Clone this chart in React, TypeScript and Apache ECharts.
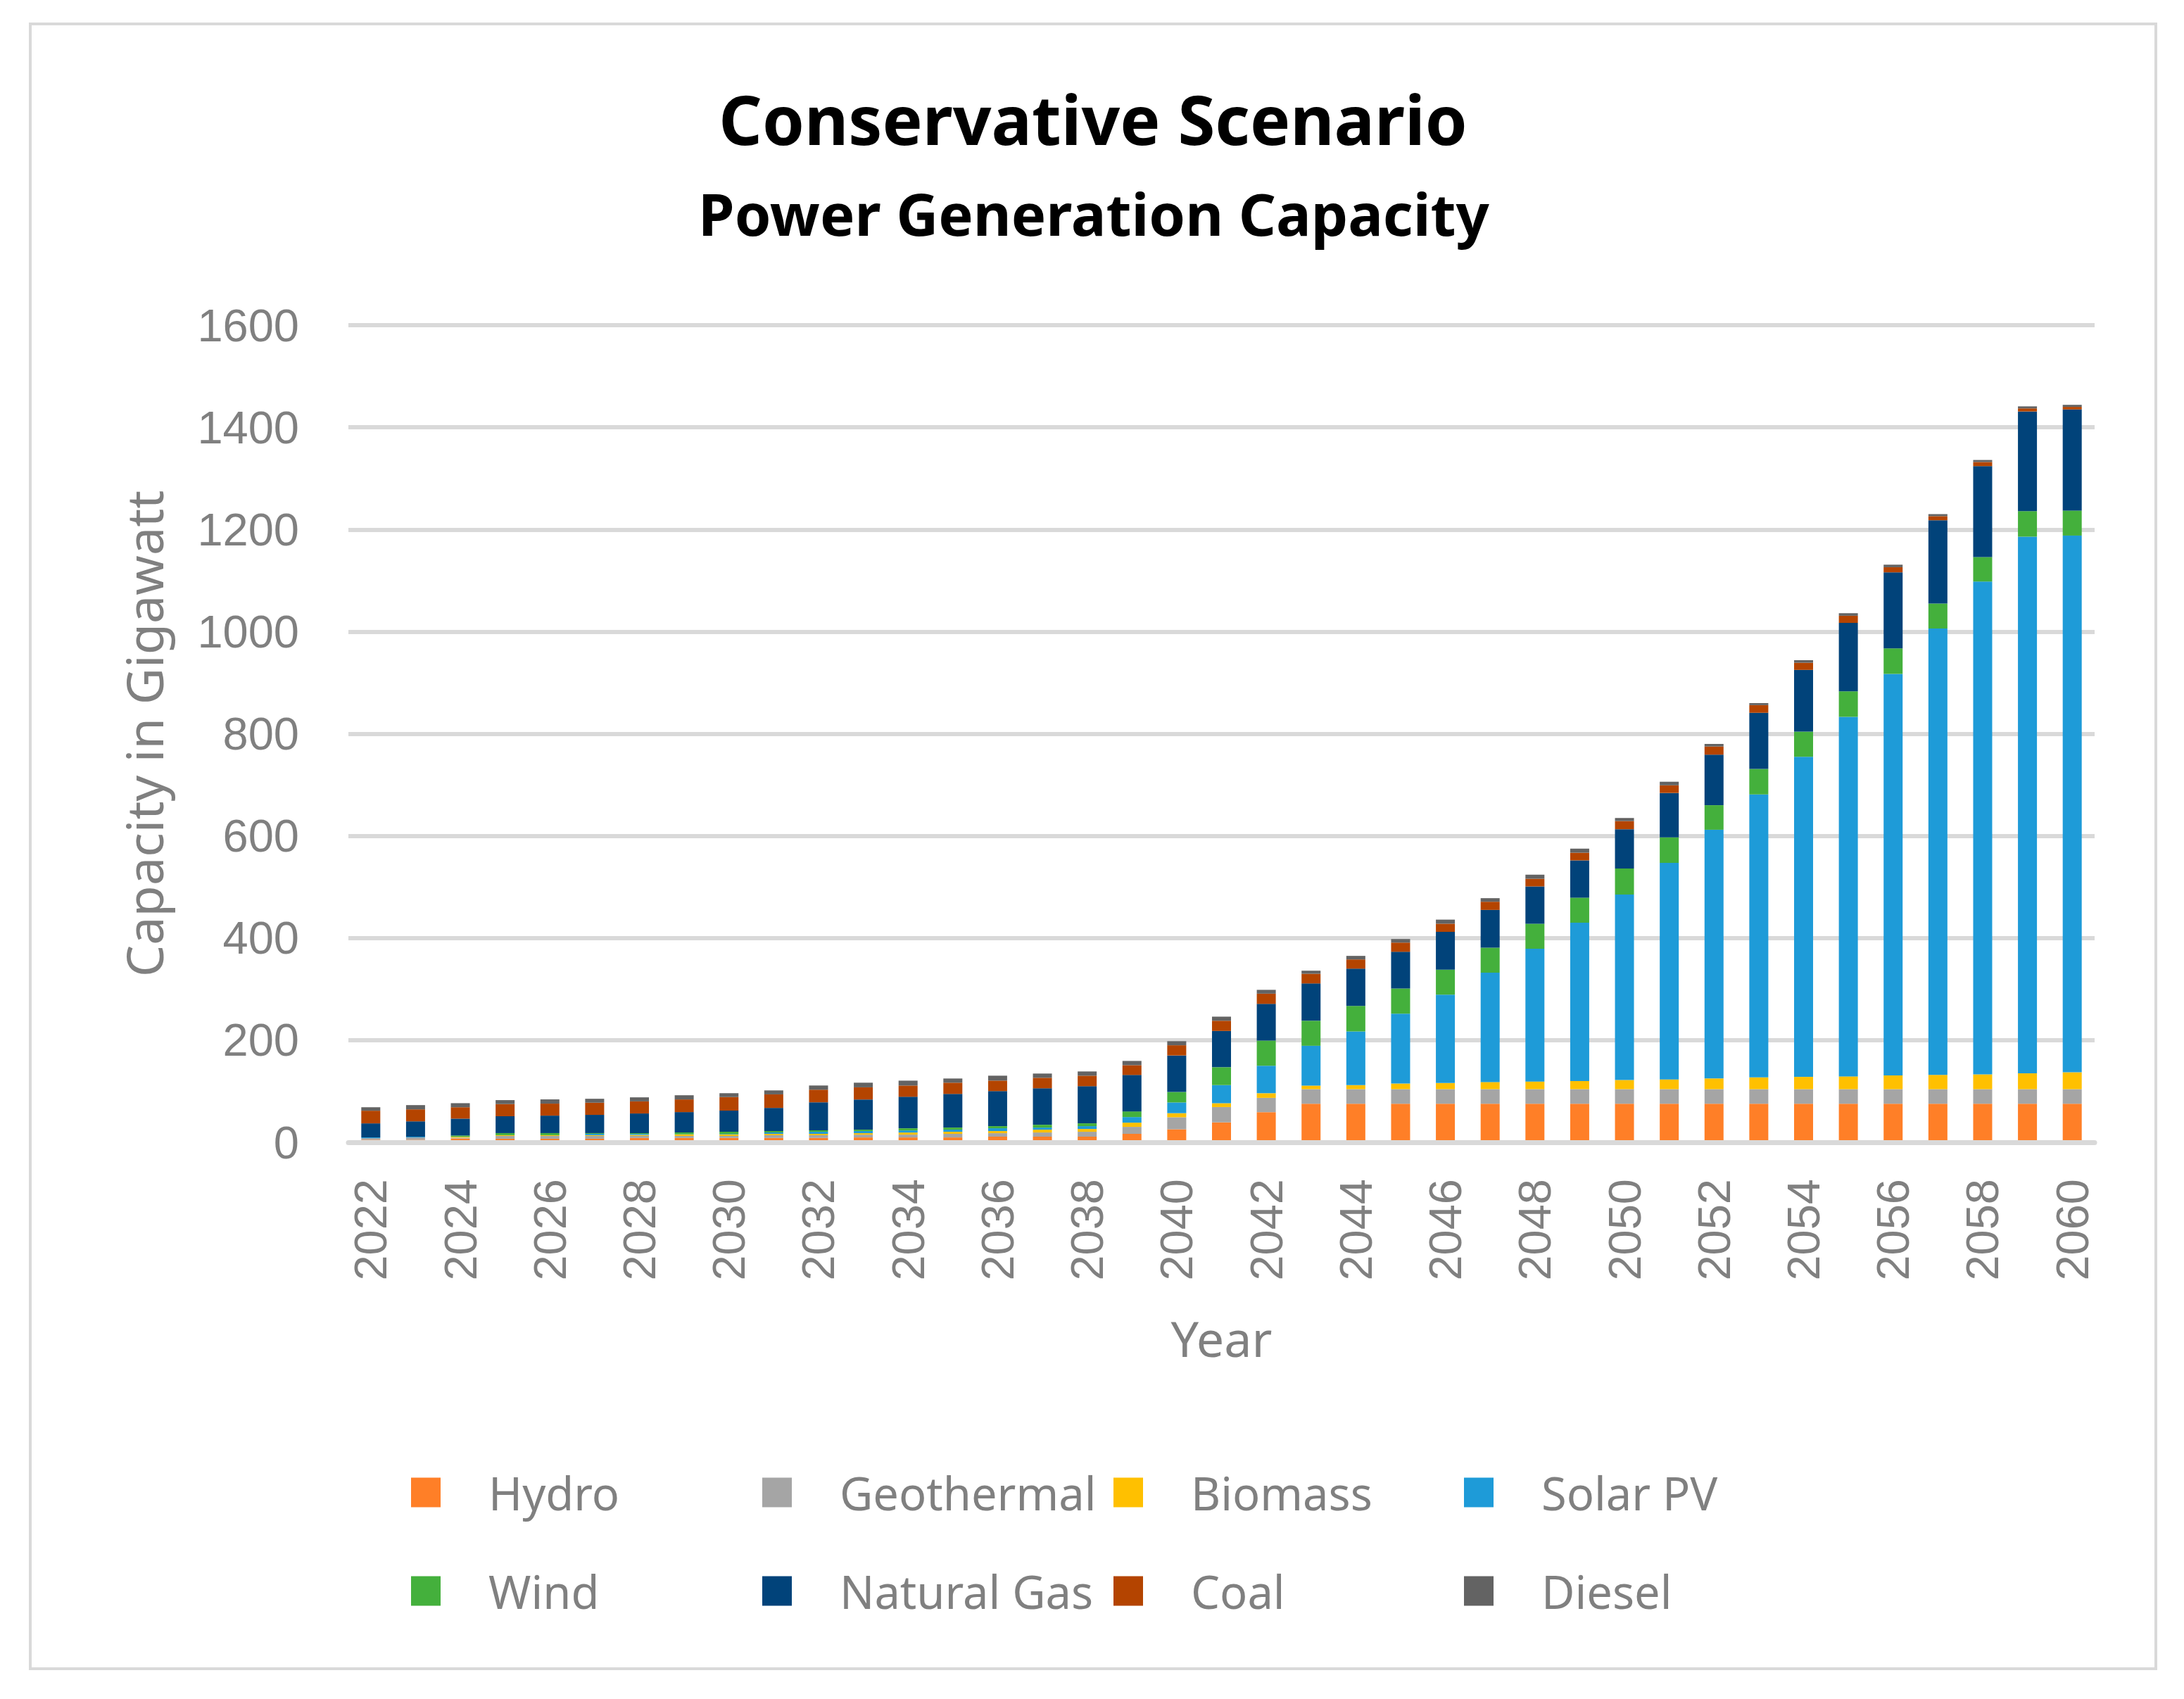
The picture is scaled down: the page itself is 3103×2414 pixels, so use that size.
import React, { useEffect, useRef } from 'react';
import * as echarts from 'echarts';

const years = [
  '2022', '2023', '2024', '2025', '2026', '2027', '2028', '2029', '2030', '2031',
  '2032', '2033', '2034', '2035', '2036', '2037', '2038', '2039', '2040', '2041',
  '2042', '2043', '2044', '2045', '2046', '2047', '2048', '2049', '2050', '2051',
  '2052', '2053', '2054', '2055', '2056', '2057', '2058', '2059', '2060',
];

const hydro = [
  5, 5, 7.5, 7, 7, 7, 8.5, 8.5, 8.5, 8.5,
  8.5, 9.5, 9.5, 9.5, 11, 11, 11, 16.5, 25.5, 39,
  59, 75.5, 75.5, 75.5, 75.5, 75.5, 75.5, 75.5, 75.5, 75.5,
  75.5, 75.5, 75.5, 75.5, 75.5, 75.5, 75.5, 75.5, 75.5,
];

const geothermal = [
  3.2, 4.6, 1.5, 5.5, 5.5, 5.5, 4, 4, 4, 5.3,
  5.3, 5.5, 5.5, 7, 6.8, 8.2, 9.6, 13.7, 23.5, 30,
  28, 28.5, 28.5, 28.5, 28.5, 28.5, 28.5, 28.5, 28.5, 28.5,
  28.5, 28.5, 28.5, 28.5, 28.5, 28.5, 28.5, 28.5, 28.5,
];

const biomass = [
  0, 0, 1.6, 1.4, 1.4, 1.4, 1.8, 2.7, 2.7, 2.7,
  2.7, 2.8, 4.1, 4.1, 4.2, 5.5, 5.5, 8.2, 8, 7.5,
  9, 7, 8, 11, 12, 14, 15, 16, 18, 19,
  21, 23, 24, 25, 27, 28, 29, 31, 33,
];

const solarPV = [
  1.4, 1.4, 0, 0, 0, 2.7, 2, 0.5, 1, 2.8,
  4.1, 4.2, 4.1, 4.1, 5.5, 4.1, 5.5, 11, 21, 35.5,
  54, 78, 105, 137, 173, 214, 260, 310, 363, 424,
  487, 554, 627, 704, 786, 874, 965, 1051, 1051,
];

const wind = [
  0, 0, 2.7, 4.1, 4.1, 1.4, 1.6, 3.6, 4.5, 2.7,
  2.8, 2.7, 4.2, 4.1, 4.1, 5.5, 5.5, 11, 20.5, 35,
  49, 49, 50, 49, 49, 49, 49, 49, 51, 50,
  48, 50, 49, 50, 50, 49, 48, 50, 49,
];

const naturalGas = [
  27.4, 30, 33, 33, 34.2, 35.7, 38.5, 39.8, 41.2, 45.3,
  54.9, 59.1, 61.7, 65.9, 68.6, 71.4, 72.7, 71.4, 71.5, 71,
  72, 73, 73, 72, 74, 74, 73, 73, 77, 87,
  99, 110, 121, 134, 149, 163, 178, 195, 198,
];

const coal = [
  24.8, 23.5, 22.3, 23.8, 23.5, 23.8, 23.7, 24.8, 26.5, 26.5,
  24.7, 23.8, 22, 22, 20.6, 20.6, 20.6, 19.2, 20, 20,
  20, 19, 18, 18, 16, 16, 15, 15, 16, 15,
  16, 15, 14, 14, 10, 8, 8, 6, 5,
];

const diesel = [
  6.8, 8.3, 8, 7.8, 8.3, 7.7, 7.9, 8.2, 7.7, 7.8,
  8.2, 9.1, 9.6, 8.2, 9.6, 8.3, 8.3, 8.3, 8, 8,
  7.5, 6, 7, 7, 8, 7, 8, 8, 6, 7,
  5, 4, 5, 5, 5, 4, 4, 4, 4,
];

const seriesNames = ['Hydro', 'Geothermal', 'Biomass', 'Solar PV', 'Wind', 'Natural Gas', 'Coal', 'Diesel'];
const seriesData = [hydro, geothermal, biomass, solarPV, wind, naturalGas, coal, diesel];
const seriesColors = ['#FF7F27', '#A5A5A5', '#FFC000', '#1E9BD8', '#44B03C', '#01437A', '#B44400', '#636363'];

const yTicks = { min: 0, max: 1600, interval: 200 };

const legendColX = [584, 1083, 1582, 2080];
const legendRowY = [2088, 2228];

export default function App() {
  const ref = useRef<HTMLDivElement>(null);

  useEffect(() => {
    document.body.style.margin = '0';
    const chart = echarts.init(ref.current as HTMLDivElement, null, { renderer: 'svg' });
    const grey = '#808080';
    const option: any = {
      animation: false,
      backgroundColor: '#ffffff',
      grid: { left: 495, right: 127, top: 462, bottom: 791, containLabel: false },
      graphic: [
        {
          type: 'rect',
          shape: { x: 43, y: 34, width: 3020, height: 2337 },
          style: { fill: 'none', stroke: '#D9D9D9', lineWidth: 4 },
          silent: true,
        },
        {
          type: 'text',
          x: 1553,
          y: 168,
          style: {
            text: 'Conservative Scenario',
            fontSize: 96,
            fontWeight: 'bold',
            fontFamily: 'Noto Sans',
            fill: '#000000',
            align: 'center',
            verticalAlign: 'middle',
          },
        },
        {
          type: 'text',
          x: 1554,
          y: 302,
          style: {
            text: 'Power Generation Capacity',
            fontSize: 83,
            fontWeight: 'bold',
            fontFamily: 'Noto Sans',
            fill: '#000000',
            align: 'center',
            verticalAlign: 'middle',
          },
        },
      ],
      legend: seriesNames.map((name, i) => ({
        data: [name],
        left: legendColX[i % 4],
        top: legendRowY[Math.floor(i / 4)],
        icon: 'rect',
        itemWidth: 42,
        itemHeight: 42,
        itemGap: 0,
        padding: 0,
        selectedMode: false,
        textStyle: {
          color: grey,
          fontSize: 65,
          fontFamily: 'Noto Sans',
          lineHeight: 42,
          padding: [0, 0, 0, 63],
        },
      })),
      xAxis: {
        type: 'category',
        data: years,
        z: 3,
        boundaryGap: true,
        name: 'Year',
        nameLocation: 'middle',
        nameGap: 243,
        nameTextStyle: { color: grey, fontSize: 70, fontFamily: 'Noto Sans' },
        axisLine: { show: true, lineStyle: { color: '#D9D9D9', width: 7 } },
        axisTick: { show: false },
        axisLabel: {
          rotate: 90,
          interval: 1,
          margin: 52,
          color: grey,
          fontSize: 65,
          fontFamily: 'Liberation Sans',
        },
      },
      yAxis: {
        type: 'value',
        min: yTicks.min,
        max: yTicks.max,
        interval: yTicks.interval,
        name: 'Capacity in Gigawatt',
        nameLocation: 'middle',
        nameGap: 255,
        nameTextStyle: { color: grey, fontSize: 72, fontFamily: 'Noto Sans' },
        axisLine: { show: false },
        axisTick: { show: false },
        splitLine: { show: true, lineStyle: { color: '#D9D9D9', width: 6 } },
        axisLabel: {
          margin: 70,
          color: grey,
          fontSize: 65,
          fontFamily: 'Liberation Sans',
          formatter: (v: number) => String(v),
        },
      },
      series: seriesNames.map((name, i) => ({
        name,
        type: 'bar',
        stack: 'total',
        barWidth: 27,
        data: seriesData[i],
        itemStyle: { color: seriesColors[i] },
        emphasis: { disabled: true },
      })),
    };
    chart.setOption(option);
    return () => chart.dispose();
  }, []);

  return <div ref={ref} style={{ width: 3103, height: 2414 }} />;
}
